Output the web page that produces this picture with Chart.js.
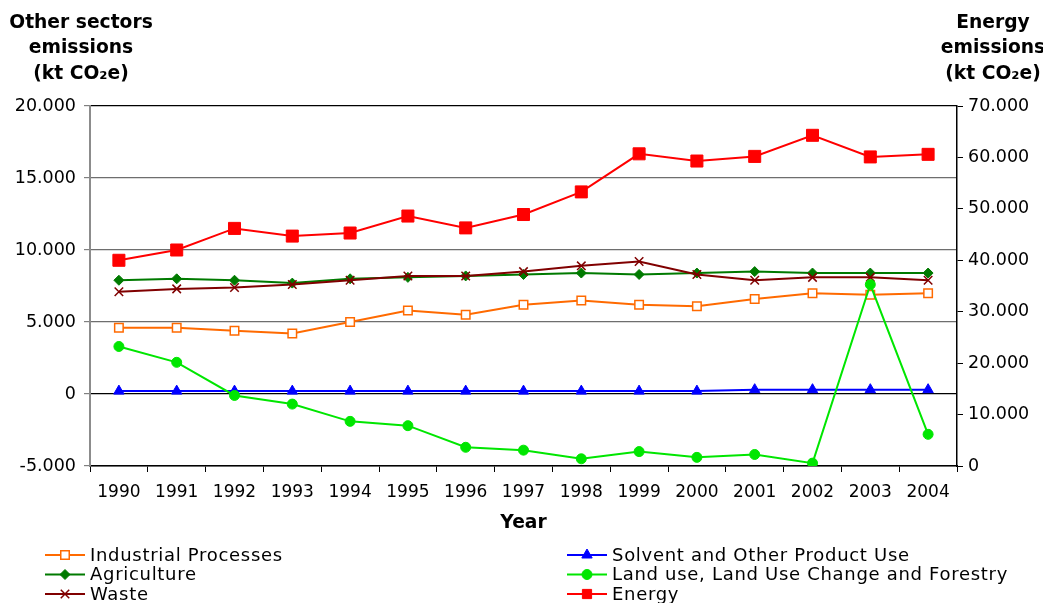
<!DOCTYPE html>
<html>
<head>
<meta charset="utf-8">
<script src="https://cdn.jsdelivr.net/npm/chart.js@4/dist/chart.umd.min.js"></script>
<style>
  html, body { margin: 0; padding: 0; background: #fff; }
</style>
</head>
<body>
<canvas id="chart" width="1043" height="603"></canvas>
<script>
"use strict";

const years = ["1990", "1991", "1992", "1993", "1994", "1995", "1996", "1997",
    "1998", "1999", "2000", "2001", "2002", "2003", "2004"];

// kt CO2e, left axis
const industrial = [4600, 4600, 4400, 4200, 5000, 5800, 5500, 6200, 6500, 6200, 6100, 6600, 7000, 6900, 7000];
const agriculture = [7900, 8000, 7900, 7700, 8000, 8100, 8200, 8300, 8400, 8300, 8400, 8500, 8400, 8400, 8400];
const waste = [7100, 7300, 7400, 7600, 7900, 8200, 8200, 8500, 8900, 9200, 8300, 7900, 8100, 8100, 7900];
const solvent = [200, 200, 200, 200, 200, 200, 200, 200, 200, 200, 200, 300, 300, 300, 300];
const lulucf = [3300, 2200, -100, -700, -1900, -2200, -3700, -3900, -4500, -4000, -4400, -4200, -4800, 7600, -2800];

// kt CO2e, right axis
const energy = [40000, 42000, 46200, 44700, 45300, 48600, 46300, 48900, 53300, 60700, 59300, 60200, 64300, 60100, 60600];

const leftTitle = ["Other sectors", "emissions", "(kt CO\u2082e)"];
const rightTitle = ["Energy", "emissions", "(kt CO\u2082e)"];

const FONT = "'DejaVu Sans', Verdana, sans-serif";

function dotted(v) {
    const s = String(Math.abs(v)).replace(/\B(?=(\d{3})+(?!\d))/g, ".");
    return (v < 0 ? "-" : "") + s;
}

function series(label, data, color, style, extra = {}) {
    return Object.assign({
        label, data,
        yAxisID: "y",
        borderColor: color,
        backgroundColor: color,
        borderWidth: 2,
        pointStyle: style,
        pointRadius: 5,
        pointBackgroundColor: color,
        pointBorderColor: color,
        pointBorderWidth: 1,
        tension: 0
    }, extra);
}

const datasets = [
    series("Industrial Processes", industrial, "#FF6A00", "rect",
        { pointBackgroundColor: "#fff", pointRadius: 6, pointBorderWidth: 1.5, order: 3 }),
    series("Agriculture", agriculture, "#007A00", "rectRot", { pointRadius: 5, order: 4 }),
    series("Waste", waste, "#800000", "crossRot", { pointRadius: 6, pointBorderWidth: 1.5, order: 2 }),
    series("Solvent and Other Product Use", solvent, "#0000FF", "triangle", { pointRadius: 6, order: 5 }),
    series("Land use, Land Use Change and Forestry", lulucf, "#00E600", "circle", { pointRadius: 5, order: 1 }),
    series("Energy", energy, "#FF0000", "rect", { yAxisID: "y1", pointRadius: 8.5, order: 6 })
];

// legend order as in two columns
const legendLayout = [
    { idx: 0, col: 0, row: 0 }, { idx: 1, col: 0, row: 1 }, { idx: 2, col: 0, row: 2 },
    { idx: 3, col: 1, row: 0 }, { idx: 4, col: 1, row: 1 }, { idx: 5, col: 1, row: 2 }
];

const textPlugin = {
    id: "textPlugin",
    afterDraw(chart) {
        const { ctx } = chart;
        ctx.save();
        ctx.fillStyle = "#000";
        ctx.textAlign = "center";
        ctx.textBaseline = "middle";
        ctx.font = "bold 18.7px " + FONT;
        leftTitle.forEach((t, i) => ctx.fillText(t, 81, 23 + i * 25.5));
        rightTitle.forEach((t, i) => ctx.fillText(t, 993, 23 + i * 25.5));
        const area = chart.chartArea;
        ctx.fillText("Year", (area.left + area.right) / 2, 523);

        // legend
        ctx.font = "18px " + FONT;
        ctx.letterSpacing = "0.7px";
        ctx.textAlign = "left";
        for (const item of legendLayout) {
            const ds = chart.data.datasets[item.idx];
            const x0 = item.col === 0 ? 45 : 567;
            const y = 555 + item.row * 19.5;
            ctx.strokeStyle = ds.borderColor;
            ctx.lineWidth = 2;
            ctx.beginPath();
            ctx.moveTo(x0, y);
            ctx.lineTo(x0 + 40, y);
            ctx.stroke();
            ctx.fillStyle = ds.pointBackgroundColor;
            ctx.strokeStyle = ds.pointBorderColor;
            ctx.lineWidth = ds.pointBorderWidth;
            Chart.helpers.drawPoint(ctx, {
                pointStyle: ds.pointStyle,
                radius: Math.min(ds.pointRadius, 6.5),
                borderWidth: ds.pointBorderWidth,
                rotation: 0
            }, x0 + 20, y);
            ctx.fillStyle = "#000";
            ctx.fillText(ds.label, x0 + 45, y + 1);
        }
        ctx.restore();
    }
};

new Chart(document.getElementById("chart").getContext("2d"), {
    type: "line",
    data: { labels: years, datasets },
    options: {
        responsive: false,
        animation: false,
        layout: { padding: { top: 106, left: 0, right: 0, bottom: 0 } },
        plugins: { legend: { display: false }, tooltip: { enabled: false } },
        scales: {
            x: {
                offset: true,
                grid: { offset: true, drawOnChartArea: false, tickLength: 6, color: "#000" },
                border: { color: "#000", width: 1.5 },
                ticks: { color: "#000", font: { family: FONT, size: 17 }, padding: 10, maxRotation: 0 },
                afterFit(scale) { scale.height = 137; }
            },
            y: {
                position: "left",
                min: -5000, max: 20000,
                ticks: { stepSize: 5000, color: "#000", font: { family: FONT, size: 17.5 }, padding: 8,
                    callback: v => dotted(v) },
                grid: {
                    tickLength: 6,
                    tickColor: "#808080",
                    color: c => (c.tick.value === 0 || c.tick.value === 20000) ? "#000" : "#6e6e6e",
                    lineWidth: 1.2
                },
                border: { color: "#8c8c8c", width: 2 },
                afterFit(scale) { scale.width = 90; }
            },
            y1: {
                position: "right",
                min: 0, max: 70000,
                ticks: { stepSize: 10000, color: "#000", font: { family: FONT, size: 17.5 }, padding: 5,
                    callback: v => dotted(v) },
                grid: { drawOnChartArea: false, tickLength: 6, color: "#000" },
                border: { color: "#000", width: 1.5 },
                afterFit(scale) { scale.width = 86; }
            }
        }
    },
    plugins: [textPlugin]
});
</script>
</body>
</html>
